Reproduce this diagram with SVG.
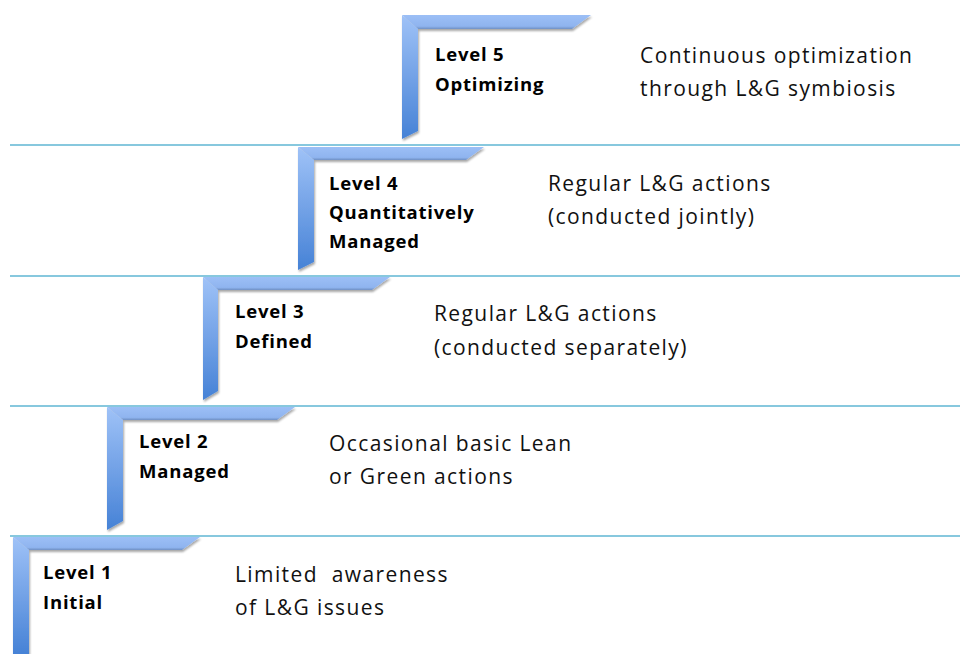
<svg xmlns="http://www.w3.org/2000/svg" width="960" height="654" viewBox="0 0 960 654">
<defs>
<linearGradient id="vg" x1="0" y1="0" x2="0" y2="1">
<stop offset="0" stop-color="#9fc2f7"/>
<stop offset="1" stop-color="#4682d6"/>
</linearGradient>
<linearGradient id="hg" x1="0" y1="0" x2="0" y2="1">
<stop offset="0" stop-color="#9cbff6"/>
<stop offset="0.8" stop-color="#8fb4ef"/>
<stop offset="1" stop-color="#6f90c4"/>
</linearGradient>
<filter id="sh" x="-10%" y="-10%" width="130%" height="130%">
<feGaussianBlur in="SourceAlpha" stdDeviation="1.2"/>
<feOffset dx="1" dy="1.5" result="b"/>
<feComponentTransfer><feFuncA type="linear" slope="0.35"/></feComponentTransfer>
<feMerge><feMergeNode/><feMergeNode in="SourceGraphic"/></feMerge>
</filter>
</defs>
<style>
.ln{stroke:#5fb6d3;stroke-width:1.3;fill:none}
.lbl{font-family:"Open Sans","Liberation Sans",sans-serif;font-weight:bold;font-size:18.5px;fill:#000;letter-spacing:0.8px}
.dsc{font-family:"Open Sans","Liberation Sans",sans-serif;font-size:21px;fill:#111;letter-spacing:1.4px}
</style>
<rect width="960" height="654" fill="#fff"/>
<g id="connectors">
<line class="ln" x1="10" y1="145" x2="960" y2="145"/>
<line class="ln" x1="10" y1="276" x2="960" y2="276"/>
<line class="ln" x1="10" y1="406" x2="960" y2="406"/>
<line class="ln" x1="10" y1="536" x2="960" y2="536"/>
</g>
<g id="level5">
<g filter="url(#sh)">
<path d="M402,15 L591,15 L572,29 L418,29 Z" fill="url(#hg)"/>
<path d="M402,15 L418,29 L418,131 L402,139 Z" fill="url(#vg)"/>
</g>
<text class="lbl" x="435" y="61">Level 5</text>
<text class="lbl" x="435" y="91">Optimizing</text>
</g>
<g id="level4">
<g filter="url(#sh)">
<path d="M298,147 L484,147 L466,160 L314,160 Z" fill="url(#hg)"/>
<path d="M298,147 L314,160 L314,262 L298,270 Z" fill="url(#vg)"/>
</g>
<text class="lbl" x="329" y="190">Level 4</text>
<text class="lbl" x="329" y="219">Quantitatively</text>
<text class="lbl" x="329" y="248">Managed</text>
</g>
<g id="level3">
<g filter="url(#sh)">
<path d="M203,277 L390,277 L372,290 L218,290 Z" fill="url(#hg)"/>
<path d="M203,277 L218,290 L218,391 L203,400 Z" fill="url(#vg)"/>
</g>
<text class="lbl" x="235" y="318">Level 3</text>
<text class="lbl" x="235" y="348">Defined</text>
</g>
<g id="level2">
<g filter="url(#sh)">
<path d="M107,407 L295,407 L277,420 L123,420 Z" fill="url(#hg)"/>
<path d="M107,407 L123,420 L123,521 L107,530 Z" fill="url(#vg)"/>
</g>
<text class="lbl" x="139" y="448">Level 2</text>
<text class="lbl" x="139" y="478">Managed</text>
</g>
<g id="level1">
<g filter="url(#sh)">
<path d="M13,537 L200,537 L182,550 L29,550 Z" fill="url(#hg)"/>
<path d="M13,537 L29,550 L29,654 L13,654 Z" fill="url(#vg)"/>
</g>
<text class="lbl" x="43" y="579">Level 1</text>
<text class="lbl" x="43" y="609">Initial</text>
</g>
<g id="desc5"><text class="dsc" x="640" y="63">Continuous optimization</text><text class="dsc" x="640" y="96">through L&amp;G symbiosis</text></g>
<g id="desc4"><text class="dsc" x="548" y="191">Regular L&amp;G actions</text><text class="dsc" x="548" y="224">(conducted jointly)</text></g>
<g id="desc3"><text class="dsc" x="434" y="321">Regular L&amp;G actions</text><text class="dsc" x="434" y="355">(conducted separately)</text></g>
<g id="desc2"><text class="dsc" x="329" y="451">Occasional basic Lean</text><text class="dsc" x="329" y="484">or Green actions</text></g>
<g id="desc1"><text class="dsc" x="235" y="582">Limited&#160; awareness</text><text class="dsc" x="235" y="615">of L&amp;G issues</text></g>
</svg>
